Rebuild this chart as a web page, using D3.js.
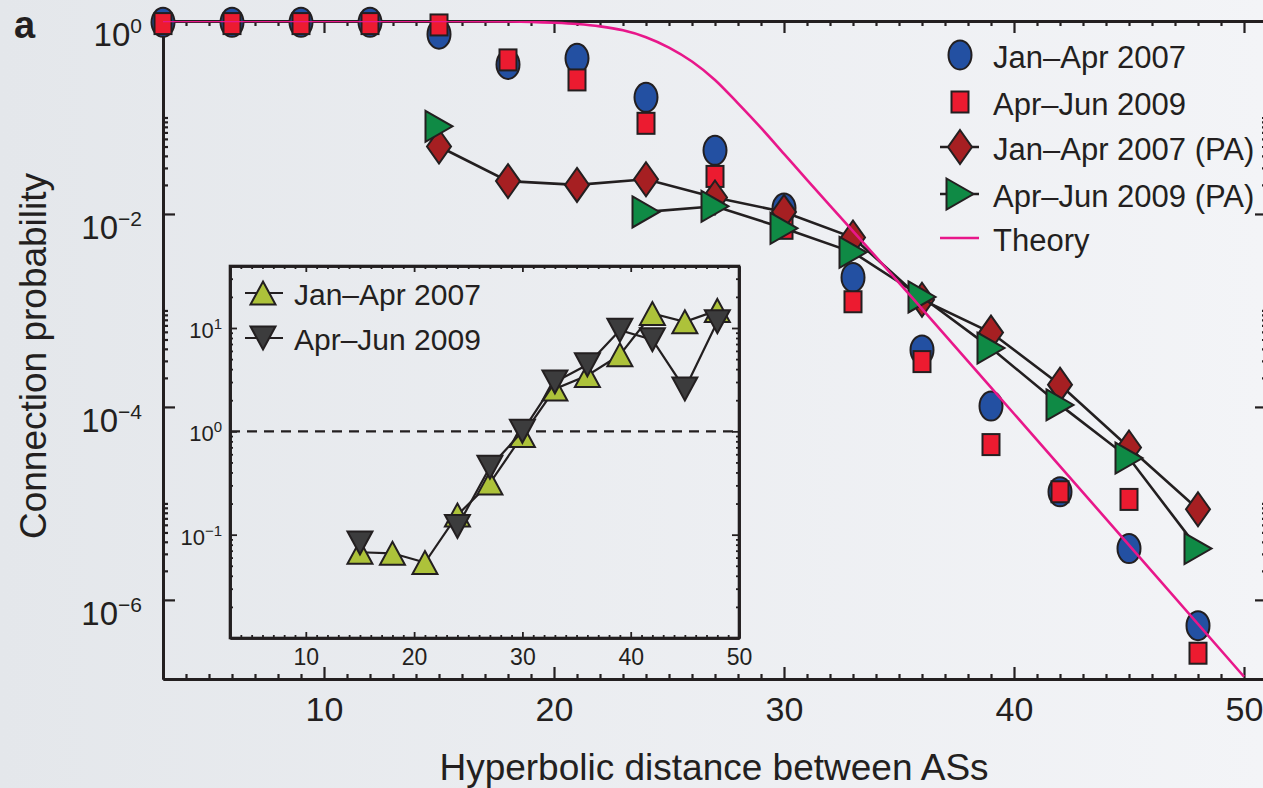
<!DOCTYPE html>
<html>
<head>
<meta charset="utf-8">
<script src="https://cdn.jsdelivr.net/npm/d3@7"></script>
<style>
  body { margin: 0; background: #eceef1; }
  svg { display: block; font-family: "Liberation Sans", Arial, Helvetica, sans-serif; }
</style>
</head>
<body>
<div id="chart"></div>
<script>
// ---- Data ----
// hyperbolic distance bins (main panel)
var distances = [3, 6, 9, 12, 15, 18, 21, 24, 27, 30, 33, 36, 39, 42, 45, 48];
var jan2007 = [0.97, 0.97, 0.97, 0.97, 0.73, 0.355, 0.41, 0.162, 0.0457, 0.0115, 0.0022, 0.00039, 0.000102, 0.0000132, 0.0000034, 0.00000054];
var apr2009 = [0.94, 0.94, 0.94, 0.94, 0.91, 0.395, 0.245, 0.087, 0.0245, 0.0071, 0.00123, 0.000295, 0.0000407, 0.0000132, 0.000011, 0.00000028];
var jan2007PA = [null, null, null, null, 0.050, 0.0219, 0.020, 0.0229, 0.0148, 0.0105, 0.0057, 0.00129, 0.00059, 0.00017, 0.000038, 0.0000087];
var apr2009PA = [null, null, null, null, 0.081, null, null, 0.0105, 0.012, 0.0071, 0.004, 0.00138, 0.000407, 0.000105, 0.0000295, 0.0000034];

// theory curve, points
var theoryX = [3, 15, 18, 19, 20, 21, 22, 23, 24, 25, 26, 27, 28, 29, 30, 31, 32, 34, 36, 40, 45, 50];
var theoryP = [1, 1, 0.99, 0.98, 0.96, 0.93, 0.88, 0.80, 0.68, 0.53, 0.38, 0.245, 0.14, 0.078, 0.042, 0.0226, 0.0122, 0.0036, 0.00104, 0.000085, 0.0000037, 0.00000016];

// inset
var insetDistances = [15, 18, 21, 24, 27, 30, 33, 36, 39, 42, 45, 48];
var insetJan2007 = [0.0676, 0.066, 0.0537, 0.155, 0.316, 0.91, 2.57, 3.47, 5.5, 13.8, 11.5, 14.8];
var insetApr2009 = [0.083, null, null, 0.12, 0.45, 1.0, 3.0, 4.4, 9.5, 7.7, 2.57, 11.5];

// ticks and labels
var xMajor = [10, 20, 30, 40, 50];
var yMajor = [1, 1e-2, 1e-4, 1e-6];
var yExponents = ["0", "\u22122", "\u22124", "\u22126"];
var insetYMajor = [10, 1, 0.1];
var insetYExponents = ["1", "0", "\u22121"];

var legendLabels = ["Jan\u2013Apr 2007", "Apr\u2013Jun 2009", "Jan\u2013Apr 2007 (PA)", "Apr\u2013Jun 2009 (PA)", "Theory"];
var insetLegendLabels = ["Jan\u2013Apr 2007", "Apr\u2013Jun 2009"];

// ---- Setup ----
var svgWidth = 1263;
var svgHeight = 788;
var ink = "#231f20";

var svg = d3.select("#chart")
  .append("svg")
  .attr("width", svgWidth)
  .attr("height", svgHeight);

var defs = svg.append("defs");
var grad = defs.append("linearGradient").attr("id", "bg").attr("x1", 0).attr("x2", 1).attr("y1", 0).attr("y2", 0);
grad.append("stop").attr("offset", "0%").attr("stop-color", "#e4e7eb");
grad.append("stop").attr("offset", "100%").attr("stop-color", "#f3f4f7");
svg.append("rect").attr("width", svgWidth).attr("height", svgHeight).attr("fill", "url(#bg)");

// main panel box
var plot = { left: 163, right: 1267, top: 21, bottom: 679 };

var x = d3.scaleLinear().domain([3, 51]).range([plot.left, plot.right]);
var y = d3.scaleLog().domain([Math.pow(10, -6.82), 1]).range([plot.bottom, plot.top]);

defs.append("clipPath").attr("id", "mainClip")
  .append("rect")
  .attr("x", plot.left).attr("y", plot.top)
  .attr("width", plot.right - plot.left).attr("height", plot.bottom - plot.top);

// marker shapes
function diamondPath(w, h) { return "M0," + (-h / 2) + "L" + (w / 2) + ",0L0," + (h / 2) + "L" + (-w / 2) + ",0Z"; }
function triRightPath(w, h) { return "M" + (-w / 2) + "," + (-h / 2) + "L" + (w / 2) + ",0L" + (-w / 2) + "," + (h / 2) + "Z"; }
function triUpPath(w, h) { return "M0," + (-h / 2) + "L" + (w / 2) + "," + (h / 2) + "L" + (-w / 2) + "," + (h / 2) + "Z"; }
function triDownPath(w, h) { return "M0," + (h / 2) + "L" + (w / 2) + "," + (-h / 2) + "L" + (-w / 2) + "," + (-h / 2) + "Z"; }

function pairs(xs, ys) {
  return xs.map(function(d, i) { return { x: d, y: ys[i] }; });
}

// ---- Main axes ----
var xMinor = d3.range(3, 52).filter(function(d) { return xMajor.indexOf(d) < 0; });
var yMinor = [];
[-2, -4, -6].forEach(function(e) {
  d3.range(2, 11).forEach(function(k) { yMinor.push(k * Math.pow(10, e)); });
});

function styleAxis(g) {
  g.select(".domain").attr("stroke", ink).attr("stroke-width", 3);
  g.selectAll(".tick line").attr("stroke", ink).attr("stroke-width", 2.2);
}

// bottom
svg.append("g").attr("transform", "translate(0," + plot.bottom + ")")
  .call(d3.axisBottom(x).tickValues(xMinor).tickSize(-5).tickSizeOuter(0).tickFormat(""))
  .call(styleAxis);
var bottomAxis = svg.append("g").attr("transform", "translate(0," + plot.bottom + ")")
  .call(d3.axisBottom(x).tickValues(xMajor).tickSize(-12).tickSizeOuter(0).tickPadding(18))
  .call(styleAxis);
bottomAxis.selectAll("text")
  .attr("fill", ink)
  .attr("font-size", 34)
  .attr("font-family", "Liberation Sans, Arial, sans-serif");

// top
svg.append("g").attr("transform", "translate(0," + plot.top + ")")
  .call(d3.axisTop(x).tickValues(xMinor).tickSize(-5).tickSizeOuter(0).tickFormat(""))
  .call(styleAxis);
svg.append("g").attr("transform", "translate(0," + plot.top + ")")
  .call(d3.axisTop(x).tickValues(xMajor).tickSize(-12).tickSizeOuter(0).tickFormat(""))
  .call(styleAxis);

// left
svg.append("g").attr("transform", "translate(" + plot.left + ",0)")
  .call(d3.axisLeft(y).tickValues(yMinor).tickSize(-5).tickSizeOuter(0).tickFormat(""))
  .call(styleAxis);
svg.append("g").attr("transform", "translate(" + plot.left + ",0)")
  .call(d3.axisLeft(y).tickValues(yMajor).tickSize(-12).tickSizeOuter(0).tickFormat(""))
  .call(styleAxis);

// right
svg.append("g").attr("transform", "translate(" + plot.right + ",0)")
  .call(d3.axisRight(y).tickValues(yMinor).tickSize(-5).tickSizeOuter(0).tickFormat(""))
  .call(styleAxis);
svg.append("g").attr("transform", "translate(" + plot.right + ",0)")
  .call(d3.axisRight(y).tickValues(yMajor).tickSize(-12).tickSizeOuter(0).tickFormat(""))
  .call(styleAxis);

// y tick labels 10^n
var yLabels = svg.append("g").selectAll("text")
  .data(yMajor)
  .enter()
  .append("text")
  .attr("x", 142)
  .attr("y", function(d) { return y(d) + 25; })
  .attr("text-anchor", "end")
  .attr("fill", ink)
  .attr("font-size", 33);
yLabels.append("tspan").text("10");
yLabels.append("tspan")
  .attr("dy", -13)
  .attr("font-size", 21)
  .text(function(d, i) { return yExponents[i]; });

// axis titles
svg.append("text")
  .attr("transform", "translate(46, 356) rotate(-90)")
  .attr("text-anchor", "middle")
  .attr("fill", ink)
  .attr("font-size", 37)
  .text("Connection probability");
svg.append("text")
  .attr("x", 714)
  .attr("y", 780)
  .attr("text-anchor", "middle")
  .attr("fill", ink)
  .attr("font-size", 37)
  .text("Hyperbolic distance between ASs");

// panel letter
svg.append("text")
  .attr("x", 14)
  .attr("y", 38)
  .attr("fill", ink)
  .attr("font-size", 38)
  .attr("font-weight", "bold")
  .text("a");

// ---- Inset ----
var inset = { left: 230, right: 739, top: 266, bottom: 638 };
var xi = d3.scaleLinear().domain([3, 50]).range([inset.left, inset.right]);
var yi = d3.scaleLog().domain([0.01, Math.pow(10, 1.6)]).range([inset.bottom, inset.top]);

var xiMinor = d3.range(4, 50).filter(function(d) { return xMajor.indexOf(d) < 0; });
var yiMinor = [];
[0.01, 0.1, 1, 10].forEach(function(base) {
  d3.range(2, 10).forEach(function(k) {
    var v = k * base;
    if (v < Math.pow(10, 1.6)) yiMinor.push(v);
  });
});

function styleInsetAxis(g) {
  g.select(".domain").attr("stroke", ink).attr("stroke-width", 2.6);
  g.selectAll(".tick line").attr("stroke", ink).attr("stroke-width", 1.8);
}

svg.append("rect")
  .attr("x", inset.left).attr("y", inset.top)
  .attr("width", inset.right - inset.left).attr("height", inset.bottom - inset.top)
  .attr("fill", "none").attr("stroke", ink).attr("stroke-width", 2.6);

svg.append("g").attr("transform", "translate(0," + inset.bottom + ")")
  .call(d3.axisBottom(xi).tickValues(xiMinor).tickSize(-3).tickSizeOuter(0).tickFormat(""))
  .call(styleInsetAxis);
var insetBottom = svg.append("g").attr("transform", "translate(0," + inset.bottom + ")")
  .call(d3.axisBottom(xi).tickValues(xMajor).tickSize(-6).tickSizeOuter(0).tickPadding(11))
  .call(styleInsetAxis);
insetBottom.selectAll("text")
  .attr("fill", ink)
  .attr("font-size", 23)
  .attr("font-family", "Liberation Sans, Arial, sans-serif");
svg.append("g").attr("transform", "translate(0," + inset.top + ")")
  .call(d3.axisTop(xi).tickValues(xiMinor).tickSize(-3).tickSizeOuter(0).tickFormat(""))
  .call(styleInsetAxis);
svg.append("g").attr("transform", "translate(0," + inset.top + ")")
  .call(d3.axisTop(xi).tickValues(xMajor).tickSize(-6).tickSizeOuter(0).tickFormat(""))
  .call(styleInsetAxis);

svg.append("g").attr("transform", "translate(" + inset.left + ",0)")
  .call(d3.axisLeft(yi).tickValues(yiMinor).tickSize(-3).tickSizeOuter(0).tickFormat(""))
  .call(styleInsetAxis);
svg.append("g").attr("transform", "translate(" + inset.left + ",0)")
  .call(d3.axisLeft(yi).tickValues(insetYMajor).tickSize(-7).tickSizeOuter(0).tickFormat(""))
  .call(styleInsetAxis);
svg.append("g").attr("transform", "translate(" + inset.right + ",0)")
  .call(d3.axisRight(yi).tickValues(yiMinor).tickSize(-3).tickSizeOuter(0).tickFormat(""))
  .call(styleInsetAxis);
svg.append("g").attr("transform", "translate(" + inset.right + ",0)")
  .call(d3.axisRight(yi).tickValues(insetYMajor).tickSize(-7).tickSizeOuter(0).tickFormat(""))
  .call(styleInsetAxis);

var yiLabels = svg.append("g").selectAll("text")
  .data(insetYMajor)
  .enter()
  .append("text")
  .attr("x", 222)
  .attr("y", function(d) { return yi(d) + 10; })
  .attr("text-anchor", "end")
  .attr("fill", ink)
  .attr("font-size", 22);
yiLabels.append("tspan").text("10");
yiLabels.append("tspan")
  .attr("dy", -9)
  .attr("font-size", 15)
  .text(function(d, i) { return insetYExponents[i]; });

// dashed reference at ratio 1
svg.append("line")
  .attr("x1", inset.left).attr("x2", inset.right)
  .attr("y1", yi(1)).attr("y2", yi(1))
  .attr("stroke", ink).attr("stroke-width", 2.4)
  .attr("stroke-dasharray", "10,7");

var insetLine = d3.line()
  .defined(function(d) { return d.y != null; })
  .x(function(d) { return xi(d.x); })
  .y(function(d) { return yi(d.y); });

var insetUp = pairs(insetDistances, insetJan2007);
var insetDown = pairs(insetDistances, insetApr2009);

svg.append("path").datum(insetUp)
  .attr("d", insetLine).attr("fill", "none").attr("stroke", ink).attr("stroke-width", 2.2);
svg.append("g").selectAll("path")
  .data(insetUp.filter(function(d) { return d.y != null; }))
  .enter().append("path")
  .attr("transform", function(d) { return "translate(" + xi(d.x) + "," + yi(d.y) + ")"; })
  .attr("d", triUpPath(25, 23))
  .attr("fill", "#adc23a").attr("stroke", ink).attr("stroke-width", 2);

svg.append("path").datum(insetDown)
  .attr("d", insetLine).attr("fill", "none").attr("stroke", ink).attr("stroke-width", 2.2);
svg.append("g").selectAll("path")
  .data(insetDown.filter(function(d) { return d.y != null; }))
  .enter().append("path")
  .attr("transform", function(d) { return "translate(" + xi(d.x) + "," + yi(d.y) + ")"; })
  .attr("d", triDownPath(25, 23))
  .attr("fill", "#3c3c3d").attr("stroke", ink).attr("stroke-width", 2);

// inset legend
var insetLegend = svg.append("g");
insetLegendLabels.forEach(function(label, i) {
  var cy = 293 + i * 45;
  insetLegend.append("line")
    .attr("x1", 245).attr("x2", 283).attr("y1", cy).attr("y2", cy)
    .attr("stroke", ink).attr("stroke-width", 2.2);
  insetLegend.append("path")
    .attr("transform", "translate(263," + cy + ")")
    .attr("d", i === 0 ? triUpPath(25, 23) : triDownPath(25, 23))
    .attr("fill", i === 0 ? "#adc23a" : "#3c3c3d")
    .attr("stroke", ink).attr("stroke-width", 2);
  insetLegend.append("text")
    .attr("x", 294).attr("y", cy + 12)
    .attr("fill", ink).attr("font-size", 30)
    .text(label);
});

// ---- Main series ----
var plotArea = svg.append("g");

var blue = pairs(distances, jan2007);
var red = pairs(distances, apr2009);
var brown = pairs(distances, jan2007PA);
var green = pairs(distances, apr2009PA);

plotArea.append("g").selectAll("ellipse")
  .data(blue)
  .enter().append("ellipse")
  .attr("cx", function(d) { return x(d.x); })
  .attr("cy", function(d) { return y(d.y); })
  .attr("rx", 11.5).attr("ry", 14.5)
  .attr("fill", "#2350a2").attr("stroke", ink).attr("stroke-width", 2);

plotArea.append("g").selectAll("rect")
  .data(red)
  .enter().append("rect")
  .attr("x", function(d) { return x(d.x) - 8.5; })
  .attr("y", function(d) { return y(d.y) - 10.5; })
  .attr("width", 17).attr("height", 21)
  .attr("fill", "#ec1b30").attr("stroke", ink).attr("stroke-width", 2);

var mainLine = d3.line()
  .defined(function(d) { return d.y != null; })
  .x(function(d) { return x(d.x); })
  .y(function(d) { return y(d.y); });

plotArea.append("path").datum(brown)
  .attr("d", mainLine).attr("fill", "none").attr("stroke", ink).attr("stroke-width", 2.6);
plotArea.append("g").selectAll("path")
  .data(brown.filter(function(d) { return d.y != null; }))
  .enter().append("path")
  .attr("transform", function(d) { return "translate(" + x(d.x) + "," + y(d.y) + ")"; })
  .attr("d", diamondPath(24, 34))
  .attr("fill", "#a61f22").attr("stroke", ink).attr("stroke-width", 2);

plotArea.append("path").datum(green)
  .attr("d", mainLine).attr("fill", "none").attr("stroke", ink).attr("stroke-width", 2.6);
plotArea.append("g").selectAll("path")
  .data(green.filter(function(d) { return d.y != null; }))
  .enter().append("path")
  .attr("transform", function(d) { return "translate(" + x(d.x) + "," + y(d.y) + ")"; })
  .attr("d", triRightPath(27, 31))
  .attr("fill", "#0f8a45").attr("stroke", ink).attr("stroke-width", 2);

// theory line on top
plotArea.append("path")
  .datum(pairs(theoryX, theoryP))
  .attr("clip-path", "url(#mainClip)")
  .attr("d", d3.line().curve(d3.curveMonotoneX)
    .x(function(d) { return x(d.x); })
    .y(function(d) { return y(d.y); }))
  .attr("fill", "none")
  .attr("stroke", "#e8178a")
  .attr("stroke-width", 2.6);

// ---- Main legend ----
var legend = svg.append("g");
var legendRows = [55, 102, 147, 194, 238];
legendLabels.forEach(function(label, i) {
  var cy = legendRows[i];
  var g = legend.append("g");
  if (i === 2 || i === 3) {
    g.append("line").attr("x1", 940).attr("x2", 979).attr("y1", cy).attr("y2", cy)
      .attr("stroke", ink).attr("stroke-width", 2.6);
  }
  if (i === 0) {
    g.append("ellipse").attr("cx", 960).attr("cy", cy).attr("rx", 11.5).attr("ry", 14.5)
      .attr("fill", "#2350a2").attr("stroke", ink).attr("stroke-width", 2);
  } else if (i === 1) {
    g.append("rect").attr("x", 951.5).attr("y", cy - 10.5).attr("width", 17).attr("height", 21)
      .attr("fill", "#ec1b30").attr("stroke", ink).attr("stroke-width", 2);
  } else if (i === 2) {
    g.append("path").attr("transform", "translate(960," + cy + ")").attr("d", diamondPath(24, 34))
      .attr("fill", "#a61f22").attr("stroke", ink).attr("stroke-width", 2);
  } else if (i === 3) {
    g.append("path").attr("transform", "translate(960," + cy + ")").attr("d", triRightPath(27, 31))
      .attr("fill", "#0f8a45").attr("stroke", ink).attr("stroke-width", 2);
  } else {
    g.append("line").attr("x1", 940).attr("x2", 979).attr("y1", cy).attr("y2", cy)
      .attr("stroke", "#e8178a").attr("stroke-width", 2.6);
  }
  g.append("text")
    .attr("x", 993).attr("y", cy + 13)
    .attr("fill", ink).attr("font-size", 31)
    .text(label);
});
</script>
</body>
</html>
